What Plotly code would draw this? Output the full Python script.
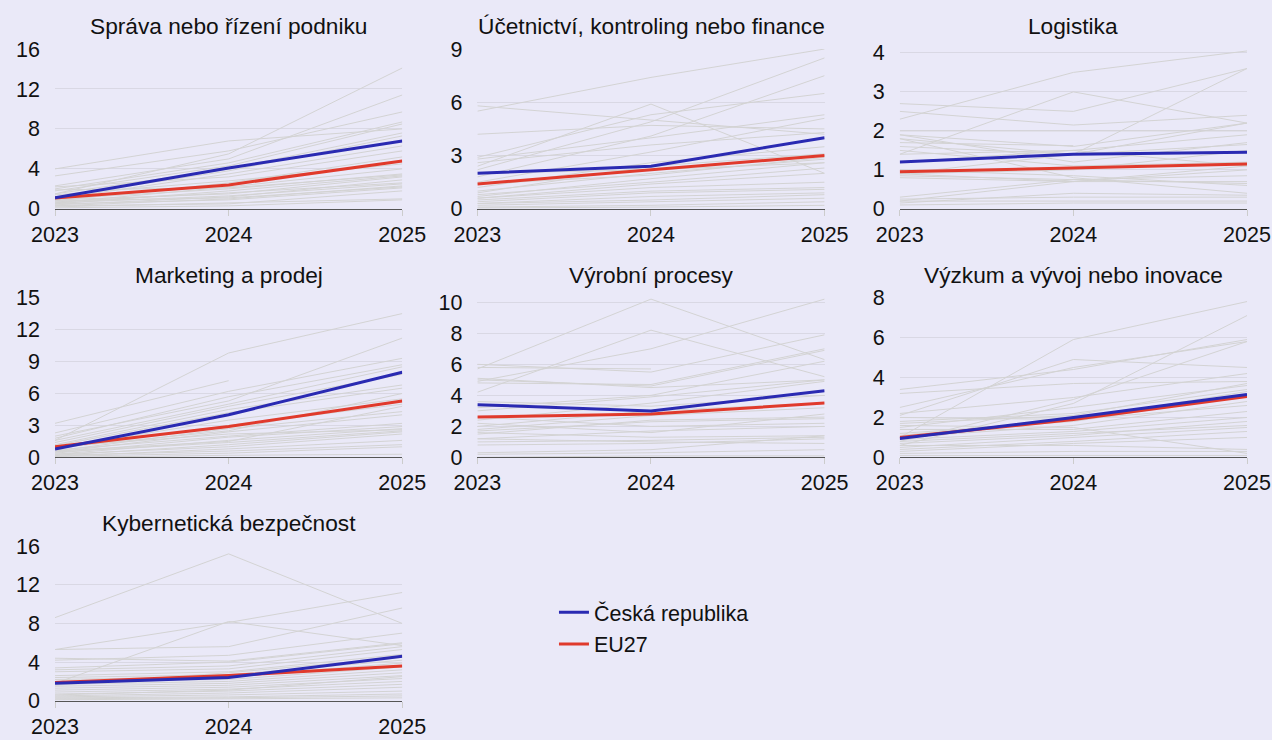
import plotly.graph_objects as go
from plotly.subplots import make_subplots

years = [2023, 2024, 2025]

titles = [
    "Správa nebo řízení podniku",
    "Účetnictví, kontroling nebo finance",
    "Logistika",
    "Marketing a prodej",
    "Výrobní procesy",
    "Výzkum a vývoj nebo inovace",
    "Kybernetická bezpečnost",
]

# Česká republika and EU27, one list per panel
cz = [
    [1.1, 4.1, 6.8],
    [2.0, 2.4, 4.0],
    [1.2, 1.4, 1.45],
    [0.8, 4.0, 8.0],
    [3.4, 3.0, 4.3],
    [0.95, 2.0, 3.15],
    [1.8, 2.4, 4.6],
]
eu27 = [
    [1.1, 2.4, 4.8],
    [1.4, 2.2, 3.0],
    [0.95, 1.05, 1.15],
    [1.0, 2.9, 5.3],
    [2.6, 2.8, 3.5],
    [1.0, 1.9, 3.05],
    [1.9, 2.6, 3.6],
]

# other member states (grey lines), one triple per country
sprava = [
    [1.5, 5.5, 14.1], [2.3, 5.0, 11.4], [4.0, 6.8, 8.0], [3.3, 5.8, 9.7],
    [2.0, 4.6, 8.7], [1.8, 4.3, 8.5], [1.5, 4.0, 7.6], [1.2, 3.8, 7.3],
    [1.0, 3.5, 6.3], [2.2, 3.2, 5.8], [0.8, 2.6, 5.2], [1.4, 2.8, 4.5],
    [0.6, 2.2, 4.0], [1.0, 2.0, 3.5], [0.5, 1.8, 3.3], [0.9, 1.5, 3.2],
    [0.4, 1.2, 2.9], [0.7, 1.6, 2.6], [0.3, 1.0, 2.3], [0.5, 0.9, 2.1],
    [0.2, 0.6, 1.0], [0.3, 0.5, 1.8], [0.6, 1.3, 2.5], [0.1, 0.3, 0.9],
    [1.9, 2.1, 3.4], [0.8, 1.1, 2.2],
]
ucetnictvi = [
    [5.5, 7.4, 9.0], [2.4, 5.9, 2.0], [5.8, 5.0, 4.2], [4.2, 4.7, 4.5],
    [2.9, 5.3, 6.5], [2.2, 4.9, 8.5], [1.8, 4.1, 7.5], [2.8, 4.0, 5.3],
    [1.5, 3.2, 5.1], [2.6, 3.6, 4.3], [1.2, 2.6, 3.5], [0.9, 2.4, 3.1],
    [1.0, 2.0, 2.8], [0.7, 1.7, 2.6], [0.8, 1.5, 2.3], [0.6, 1.2, 1.5],
    [0.5, 1.0, 1.2], [0.4, 0.9, 1.1], [0.3, 0.7, 0.9], [0.3, 0.5, 0.8],
    [0.2, 0.4, 0.6], [0.1, 0.2, 0.4], [2.0, 2.2, 2.6], [1.4, 1.9, 2.9],
    [0.6, 1.4, 2.0], [0.05, 0.1, 0.2],
]
logistika = [
    [2.3, 3.5, 4.05], [1.4, 3.0, 2.2], [2.7, 2.5, 3.6], [2.5, 2.15, 2.4],
    [0.9, 1.4, 3.6], [2.0, 2.0, 2.0], [1.9, 1.6, 2.2], [1.8, 1.4, 2.2],
    [1.7, 1.62, None], [1.9, 1.2, 1.7], [1.6, 1.4, 1.65], [1.5, 1.1, 1.2],
    [0.9, 0.7, 1.0], [0.85, 0.75, 0.85], [0.8, 0.7, 0.7], [0.2, 0.7, 1.1],
    [0.3, 0.75, 0.65], [0.15, 0.4, 0.35], [0.25, 0.3, 0.3], [0.2, 0.2, 0.2],
    [0.1, 0.15, 0.15], [1.0, 0.85, 0.6], [1.8, 0.8, 0.4], [1.2, 1.5, 1.1],
    [0.9, 1.0, 1.5], [1.4, 1.5, 1.9],
]
marketing = [
    [1.6, 9.8, 13.5], [3.2, 7.2, None], [2.3, 6.2, 9.3], [2.0, 5.3, 11.2],
    [1.8, 5.7, 8.7], [1.6, 5.0, 8.5], [1.4, 4.8, 7.8], [1.2, 4.5, 6.8],
    [1.1, 4.2, 6.5], [0.9, 3.5, 5.5], [0.8, 3.0, 5.0], [0.6, 2.7, 4.3],
    [0.5, 2.4, 4.0], [0.7, 2.0, 3.2], [0.4, 1.9, 2.9], [0.3, 1.6, 2.7],
    [0.5, 1.4, 2.5], [0.2, 1.2, 2.4], [0.3, 1.0, 2.2], [0.1, 0.8, 1.6],
    [0.2, 0.6, 1.2], [0.1, 0.4, 1.0], [0.0, 0.2, 0.3], [1.0, 2.2, 2.6],
    [0.6, 1.5, 4.8], [0.9, 2.5, 6.0],
]
vyrobni = [
    [5.7, 10.2, 6.3], [4.2, 8.2, 5.2], [4.9, 7.0, 10.2], [5.8, 5.7, None],
    [6.0, 5.5, 7.9], [4.8, 4.7, 7.0], [5.0, 4.6, 6.9], [3.2, 4.0, 6.2],
    [3.0, 3.9, 5.0], [2.4, 3.5, 4.9], [3.6, 3.3, 4.0], [2.0, 3.0, 3.5],
    [1.5, 2.4, 2.6], [1.7, 2.3, 2.5], [2.6, 2.0, 2.2], [1.2, 1.7, 2.0],
    [1.6, 1.3, 1.4], [1.0, 1.1, 1.3], [0.8, 0.9, 1.2], [1.2, 1.0, 0.9],
    [0.3, 0.5, 1.4], [0.2, 0.3, 0.5], [0.0, 0.1, 0.1], [5.1, 4.5, 5.0],
    [1.8, 2.7, 3.2], [2.2, 1.6, 2.8],
]
vyzkum = [
    [1.0, 5.9, 7.8], [2.1, 4.9, 4.5], [2.5, 4.5, 5.8], [3.4, 4.4, 5.9],
    [0.6, 2.7, 7.1], [3.2, 3.7, 3.8], [0.8, 2.9, 5.8], [2.2, 3.0, 4.2],
    [1.5, 2.5, 3.6], [1.8, 2.2, 3.4], [1.2, 1.8, 3.1], [1.0, 1.6, 2.8],
    [1.4, 1.4, 2.3], [0.9, 1.3, 2.0], [0.7, 1.1, 1.8], [0.5, 1.0, 1.5],
    [0.4, 0.8, 1.3], [0.3, 0.7, 1.0], [0.6, 0.6, 0.4], [1.6, 1.5, 0.2],
    [0.2, 0.3, 0.3], [0.1, 0.1, 0.1], [2.0, 1.9, 2.6], [1.7, 2.1, 3.7],
    [0.8, 1.2, 1.6], [1.1, 1.9, 3.3],
]
kyber = [
    [8.6, 15.2, 8.0], [1.8, 8.2, 5.7], [5.3, 8.1, 11.2], [5.3, 5.6, 9.6],
    [4.2, 4.7, 7.0], [4.4, 4.1, 6.0], [3.4, 4.0, 5.9], [3.2, 3.6, 5.6],
    [3.0, 3.3, 5.3], [2.6, 3.0, 4.8], [2.4, 2.7, 4.2], [2.2, 2.5, 3.9],
    [2.0, 2.2, 3.5], [1.7, 2.0, 3.2], [1.5, 1.8, 2.9], [1.3, 1.6, 2.6],
    [1.1, 1.4, 2.3], [0.9, 1.2, 2.0], [0.7, 1.0, 1.7], [0.5, 0.8, 1.4],
    [0.4, 0.6, 1.0], [0.3, 0.4, 0.7], [0.2, 0.3, 0.5], [0.1, 0.2, 0.3],
    [1.6, 2.9, 4.5], [0.6, 1.1, 2.5],
]

others = [sprava, ucetnictvi, logistika, marketing, vyrobni, vyzkum, kyber]
y_max = [16, 9, 4.1, 15, 10.3, 8, 16]
y_dtick = [4, 3, 1, 3, 2, 2, 4]

bg = "#EAE9F8"
font = "Liberation Sans, Arial, sans-serif"

fig = make_subplots(
    rows=3, cols=3,
    subplot_titles=titles,
    horizontal_spacing=0.063,
    vertical_spacing=0.135,
)

for i in range(7):
    r, c = i // 3 + 1, i % 3 + 1
    for vals in others[i]:
        fig.add_trace(go.Scatter(
            x=years, y=vals, mode="lines",
            line=dict(color="#D3D3D3", width=1),
            showlegend=False, hoverinfo="skip",
        ), row=r, col=c)
    fig.add_trace(go.Scatter(
        x=years, y=eu27[i], mode="lines", name="EU27",
        line=dict(color="#E03A2C", width=3),
        legendgroup="eu", legendrank=2, showlegend=(i == 0),
    ), row=r, col=c)
    fig.add_trace(go.Scatter(
        x=years, y=cz[i], mode="lines", name="Česká republika",
        line=dict(color="#2A2AB2", width=3),
        legendgroup="cz", legendrank=1, showlegend=(i == 0),
    ), row=r, col=c)
    fig.update_yaxes(
        range=[0, y_max[i]], dtick=y_dtick[i], showgrid=True,
        gridcolor="#D9D8E4", zeroline=False, ticks="",
        ticklabelstandoff=14, automargin=False,
        tickfont=dict(size=21.5), row=r, col=c,
    )
    fig.update_xaxes(
        range=[2023, 2025], tickvals=years, showgrid=False,
        showline=True, linecolor="#555555", linewidth=1,
        ticks="outside", ticklen=6, tickcolor="#CCCCCC",
        automargin=False,
        tickfont=dict(size=21.5), zeroline=False, row=r, col=c,
    )

# hide empty cells
for ax in ["xaxis8", "yaxis8", "xaxis9", "yaxis9"]:
    fig.layout[ax].visible = False

# lift the bottom row a little so its year labels stay on the page
d = fig.layout.yaxis7.domain
fig.layout.yaxis7.domain = [0.008, d[1]]

for ann in fig.layout.annotations:
    ann.font = dict(size=22.7, color="#111111", family=font)
    ann.yshift = 8

fig.update_layout(
    width=1272, height=740,
    paper_bgcolor=bg, plot_bgcolor=bg,
    font=dict(family=font, size=21.5, color="#111111"),
    margin=dict(l=55, r=25, t=49, b=34),
    legend=dict(
        x=0.4186, y=0.174, xanchor="left", yanchor="top",
        bgcolor="rgba(0,0,0,0)", font=dict(size=21.5),
        traceorder="grouped", tracegroupgap=1,
    ),
)

fig.write_html(
    "out.html",
    config={"displayModeBar": False},
    post_script="document.body.style.margin='0';document.body.style.overflow='hidden';",
)
